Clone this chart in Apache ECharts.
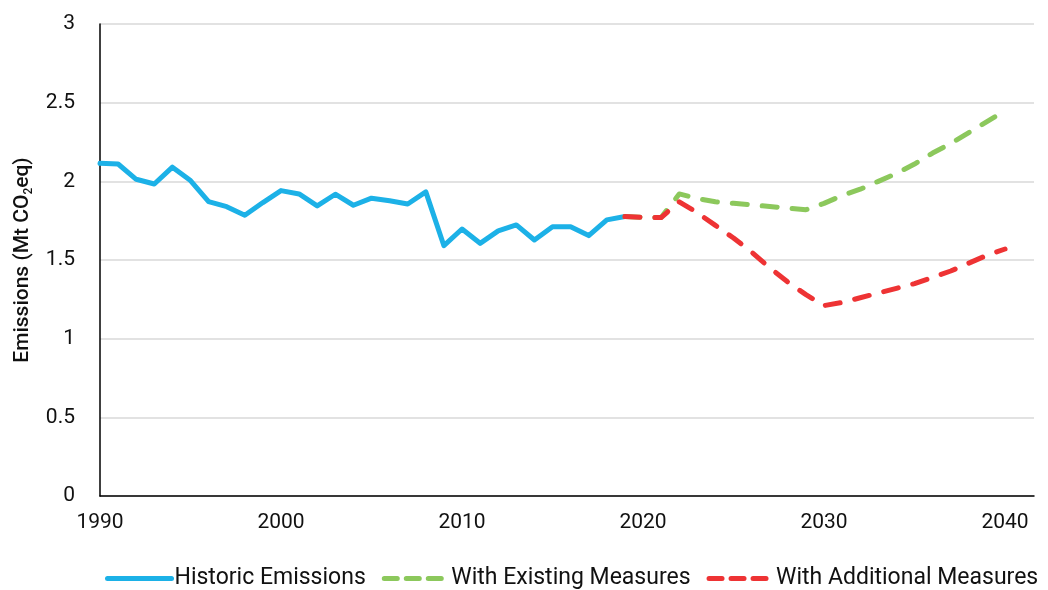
<!DOCTYPE html>
<html>
<head>
<meta charset="utf-8">
<title>Emissions</title>
<script src="https://cdn.jsdelivr.net/npm/echarts@6/dist/echarts.min.js"></script>
<style>
  html, body { margin: 0; padding: 0; background: #fff; }
  #chart { width: 1048px; height: 590px; }
</style>
</head>
<body>
<div id="chart"></div>
<script>
// historic emissions, 1990-2019
var histYears = [1990, 1991, 1992, 1993, 1994, 1995, 1996, 1997, 1998, 1999,
  2000, 2001, 2002, 2003, 2004, 2005, 2006, 2007, 2008, 2009,
  2010, 2011, 2012, 2013, 2014, 2015, 2016, 2017, 2018, 2019];
var histValues = [2.115, 2.11, 2.013, 1.983, 2.09, 2.005, 1.871, 1.839, 1.784, 1.865,
  1.941, 1.92, 1.844, 1.918, 1.848, 1.893, 1.877, 1.856, 1.933, 1.591,
  1.697, 1.606, 1.685, 1.723, 1.627, 1.712, 1.712, 1.655, 1.755, 1.776];

// projections, 2019-2040
var projYears = [2019, 2020, 2021, 2022, 2023, 2024, 2025, 2026, 2027, 2028, 2029,
  2030, 2031, 2032, 2033, 2034, 2035, 2036, 2037, 2038, 2039, 2040];
var wemValues = [1.776, 1.77, 1.77, 1.92, 1.89, 1.87, 1.86, 1.85, 1.84, 1.83, 1.82,
  1.86, 1.91, 1.95, 2.0, 2.05, 2.11, 2.18, 2.24, 2.31, 2.38, 2.45];
var wamValues = [1.776, 1.77, 1.77, 1.87, 1.8, 1.72, 1.64, 1.55, 1.45, 1.36, 1.28,
  1.21, 1.23, 1.26, 1.29, 1.32, 1.35, 1.39, 1.43, 1.48, 1.53, 1.57];

var seriesNames = ['Historic Emissions', 'With Existing Measures', 'With Additional Measures'];
var colors = ['#1cb1e7', '#8cc85c', '#ee3334'];

function pairs(xs, ys) {
  return xs.map(function (x, i) { return [x, ys[i]]; });
}

var myChart = echarts.init(document.getElementById('chart'));
var font = 'Roboto, "Liberation Sans", sans-serif';

var option = {
  animation: false,
  backgroundColor: '#fff',
  textStyle: { fontFamily: font },
  grid: { left: 100, right: 14, top: 24, bottom: 94 },
  legend: {
    left: 100,
    top: 562,
    itemWidth: 64,
    itemHeight: 6,
    itemGap: 16,
    // hide the symbol in the legend icon, keep a thick line
    itemStyle: { opacity: 0 },
    lineStyle: { width: 5, cap: 'round' },
    data: [
      { name: seriesNames[0] },
      { name: seriesNames[1], lineStyle: { type: [13, 9] } },
      { name: seriesNames[2], lineStyle: { type: [13, 9] } }
    ],
    textStyle: { fontSize: 23, color: '#111', fontFamily: font, padding: [0, 0, 0, -2] }
  },
  xAxis: {
    type: 'value',
    min: 1990,
    max: 2041.6,
    interval: 10,
    axisLine: { show: true, lineStyle: { color: '#000', width: 1.5 } },
    axisTick: { show: false },
    splitLine: { show: false },
    axisLabel: {
      fontSize: 21,
      color: '#111',
      margin: 16,
      showMaxLabel: false,
      formatter: function (v) { return v % 10 === 0 ? String(v) : ''; }
    }
  },
  yAxis: {
    type: 'value',
    min: 0,
    max: 3,
    interval: 0.5,
    name: '{a|Emissions (Mt CO}{s|2}{a|eq)}',
    nameLocation: 'middle',
    nameGap: 64,
    nameTextStyle: {
      rich: {
        a: { fontSize: 21, color: '#111', fontFamily: font, fontWeight: 500 },
        s: { fontSize: 12, color: '#111', fontFamily: font, fontWeight: 500, padding: [12, 0, 0, 0] }
      }
    },
    axisLine: { show: true, lineStyle: { color: '#000', width: 1.5 } },
    axisTick: { show: false },
    splitLine: { show: true, lineStyle: { color: '#d9d9d9', width: 1.5 } },
    axisLabel: { fontSize: 21, color: '#111', margin: 25 }
  },
  series: [
    {
      name: seriesNames[0],
      type: 'line',
      data: pairs(histYears, histValues),
      showSymbol: false,
      symbol: 'none',
      color: colors[0],
      lineStyle: { width: 5, color: colors[0], cap: 'round', join: 'round' }
    },
    {
      name: seriesNames[1],
      type: 'line',
      data: pairs(projYears, wemValues),
      showSymbol: false,
      symbol: 'none',
      color: colors[1],
      lineStyle: { width: 5, color: colors[1], type: [15, 15], cap: 'round', join: 'round' }
    },
    {
      name: seriesNames[2],
      type: 'line',
      data: pairs(projYears, wamValues),
      showSymbol: false,
      symbol: 'none',
      color: colors[2],
      lineStyle: { width: 5, color: colors[2], type: [15, 15], cap: 'round', join: 'round' }
    }
  ]
};

myChart.setOption(option);
</script>
</body>
</html>
